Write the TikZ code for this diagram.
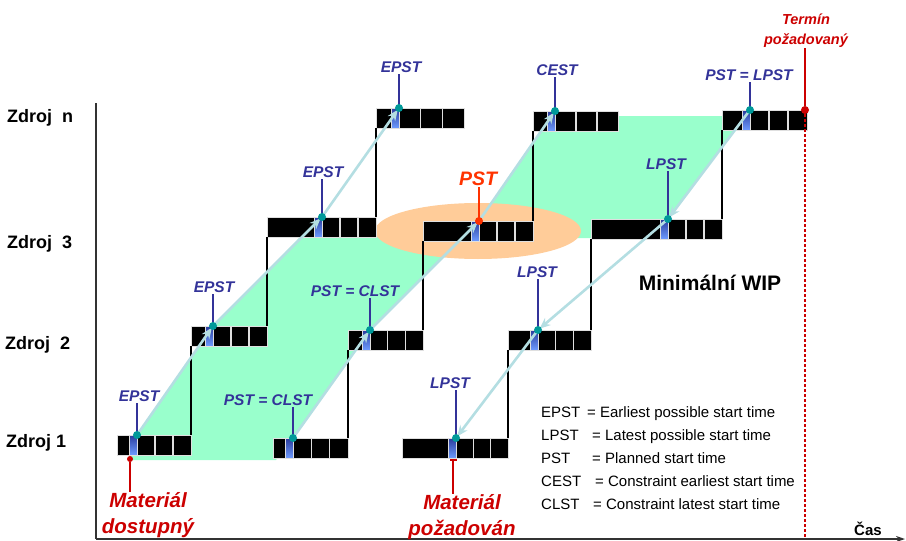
\documentclass[tikz,border=0pt]{standalone}
\usepackage{fontspec}
\setmainfont{Liberation Sans}
\usetikzlibrary{arrows.meta,calc,positioning}
\definecolor{mintgreen}{HTML}{99FFCC}
\definecolor{peach}{HTML}{FFCC99}
\definecolor{stemblue}{HTML}{333399}
\definecolor{dotteal}{HTML}{009999}
\definecolor{flowcyan}{HTML}{B4DEE2}
\definecolor{duered}{HTML}{CC0000}
\definecolor{pstred}{HTML}{FF3300}
\definecolor{cellblue}{HTML}{6E9BFF}
\definecolor{celldark}{HTML}{2A3C9C}
\pgfdeclarelayer{back}
\pgfsetlayers{back,main}

\tikzset{
  barbox/.style={fill=black, draw=gray!25, line width=1pt, minimum height=20pt, inner sep=0pt, outer sep=0pt},
  bluecell/.style={top color=celldark, bottom color=cellblue, draw=gray!25, line width=1pt, minimum width=8pt, minimum height=20pt, inner sep=0pt, outer sep=0pt},
  cellsep/.style={gray!25, line width=1.6pt},
  linkline/.style={black, line width=1.8pt},
  axisline/.style={black!80, line width=1.4pt},
  flow/.style={flowcyan, line width=2.6pt, shorten >=2pt, -{Stealth[length=11pt,width=9pt]}},
  stem/.style={stemblue, line width=2pt},
  redstem/.style={duered, line width=2pt},
  tealdot/.style={circle, fill=dotteal, inner sep=0pt, minimum size=8pt},
  reddot/.style={circle, fill=#1, inner sep=0pt, minimum size=8pt},
  timelbl/.style={text=stemblue, font=\fontsize{15.5}{18}\selectfont\bfseries\itshape, inner sep=2pt},
  reslbl/.style={font=\fontsize{18}{20}\selectfont\bfseries, inner sep=0pt},
  redlbl/.style={text=duered, font=\fontsize{20.5}{26}\selectfont\bfseries\itshape, align=center, inner sep=0pt},
  legendtxt/.style={font=\fontsize{15}{23}\selectfont, align=left, inner sep=0pt},
}

% name, left end, blue cell, right end, y
\newcommand{\jobbar}[5]{%
  \node[barbox, anchor=west, minimum width={(#4-#2)*1pt}] (#1) at (#2,#5) {};
  \node[bluecell, anchor=west] (#1-s) at (#3,#5) {};
  \pgfmathsetmacro{\cellw}{(#4-#3-8)/3}
  \foreach \k in {1,2}
    \draw[cellsep] ({#3+8+\k*\cellw},#5-10) -- ++(0,20);
  \coordinate (#1-d) at (#1-s.north east);
}

\begin{document}
\begin{tikzpicture}[x=1pt,y=-1pt]
  \useasboundingbox (0,0) rectangle (906,541);

  \coordinate (ytop) at (96,103);
  \coordinate (orig) at (96,539);
  \coordinate (xend) at (905,539);
  \draw[axisline] (ytop) -- (orig);
  \draw[axisline,-{Stealth[length=9pt,width=6pt]}] (orig) -- (xend);
  \node[font=\fontsize{15}{18}\selectfont\bfseries, anchor=base] (cas) at (868,535) {Čas};

  \node[reslbl, anchor=base west] (resn) at (7,122) {Zdroj\ \ n};
  \node[reslbl, anchor=base west] (res3) at (7,248) {Zdroj\ \ 3};
  \node[reslbl, anchor=base west] (res2) at (5,349) {Zdroj\ \ 2};
  \node[reslbl, anchor=base west] (res1) at (6,447) {Zdroj 1};

  \jobbar{z1a}{117}{129}{191}{445}
  \jobbar{z1b}{273}{285}{348}{448}
  \jobbar{z1c}{402}{448}{508}{448}
  \jobbar{z2a}{191}{205}{267}{336}
  \jobbar{z2b}{348}{362}{423}{340}
  \jobbar{z2c}{508}{530}{591}{340}
  \jobbar{z3a}{267}{314}{376}{227}
  \jobbar{z3b}{423}{471}{533}{231}
  \jobbar{z3c}{591}{660}{722}{229}
  \jobbar{zna}{376}{391}{464}{118}
  \jobbar{znb}{533}{547}{618}{121}
  \jobbar{znc}{722}{742}{807}{120}

  \begin{pgfonlayer}{back}
    \fill[mintgreen] (130,460) -- (z1a-d) -- (z2a-d) -- (309,228) -- (z3b-d) -- (552,116)
      -- (746,116) -- (z3c-d) -- (645,238) -- (461,238) -- (z2b-d) -- (z1b-d) -- (276,460) -- cycle;
    \fill[peach] (478,231) ellipse [x radius=103pt, y radius=28pt];
  \end{pgfonlayer}

  \draw[linkline] (z1a.north east) -- (z2a.south west);
  \draw[linkline] (z2a.north east) -- (z3a.south west);
  \draw[linkline] (z3a.north east) -- (zna.south west);
  \draw[linkline] (z1b.north east) -- (z2b.south west);
  \draw[linkline] (z2b.north east) -- (z3b.south west);
  \draw[linkline] (z3b.north east) -- (znb.south west);
  \draw[linkline] (z1c.north east) -- (z2c.south west);
  \draw[linkline] (z2c.north east) -- (z3c.south west);
  \draw[linkline] (z3c.north east) -- (znc.south west);

  \draw[flow] (z1a-d) -- (z2a-d);
  \draw[flow] (z2a-d) -- (z3a-d);
  \draw[flow] (z3a-d) -- (zna-d);
  \draw[flow] (z1b-d) -- (z2b-d);
  \draw[flow] (z2b-d) -- (z3b-d);
  \draw[flow] (z3b-d) -- (znb-d);
  \draw[flow] (znc-d) -- (z3c-d);
  \draw[flow] (z3c-d) -- (z2c-d);
  \draw[flow] (z2c-d) -- (z1c-d);

  \node[timelbl, anchor=base] (z1a-l) at (139,401) {EPST};
  \node[timelbl, anchor=base] (z1b-l) at (268,405) {PST = CLST};
  \node[timelbl, anchor=base] (z1c-l) at (450,388) {LPST};
  \node[timelbl, anchor=base] (z2a-l) at (214,292) {EPST};
  \node[timelbl, anchor=base] (z2b-l) at (355,296) {PST = CLST};
  \node[timelbl, anchor=base] (z2c-l) at (537,277) {LPST};
  \node[timelbl, anchor=base] (z3a-l) at (323,177) {EPST};
  \node[timelbl, anchor=base, text=pstred, font=\fontsize{19.5}{22}\selectfont\bfseries\itshape] (z3b-l) at (478,185) {PST};
  \node[timelbl, anchor=base] (z3c-l) at (666,169) {LPST};
  \node[timelbl, anchor=base] (zna-l) at (401,72) {EPST};
  \node[timelbl, anchor=base] (znb-l) at (557,75) {CEST};
  \node[timelbl, anchor=base] (znc-l) at (749,80) {PST = LPST};

  \draw[stem] (z1a-d) -- (z1a-d |- z1a-l.south);
  \draw[stem] (z1b-d) -- (z1b-d |- z1b-l.south);
  \draw[stem] (z1c-d) -- (z1c-d |- z1c-l.south);
  \draw[stem] (z2a-d) -- (z2a-d |- z2a-l.south);
  \draw[stem] (z2b-d) -- (z2b-d |- z2b-l.south);
  \draw[stem] (z2c-d) -- (z2c-d |- z2c-l.south);
  \draw[stem] (z3a-d) -- (z3a-d |- z3a-l.south);
  \draw[stem, pstred] (z3b-d) -- (z3b-d |- z3b-l.south);
  \draw[stem] (z3c-d) -- (z3c-d |- z3c-l.south);
  \draw[stem] (zna-d) -- (zna-d |- zna-l.south);
  \draw[stem] (znb-d) -- (znb-d |- znb-l.south);
  \draw[stem] (znc-d) -- (znc-d |- znc-l.south);

  \node[tealdot] (z1a-p) at (z1a-d) {};
  \node[tealdot] (z1b-p) at (z1b-d) {};
  \node[tealdot] (z1c-p) at (z1c-d) {};
  \node[tealdot] (z2a-p) at (z2a-d) {};
  \node[tealdot] (z2b-p) at (z2b-d) {};
  \node[tealdot] (z2c-p) at (z2c-d) {};
  \node[tealdot] (z3a-p) at (z3a-d) {};
  \node[reddot=pstred] (z3b-p) at (z3b-d) {};
  \node[tealdot] (z3c-p) at (z3c-d) {};
  \node[tealdot] (zna-p) at (zna-d) {};
  \node[tealdot] (znb-p) at (znb-d) {};
  \node[tealdot] (znc-p) at (znc-d) {};

  % deadline
  \node[reddot=duered] (due-p) at (805,110) {};
  \node[text=duered, font=\fontsize{14.5}{20}\selectfont\bfseries\itshape, align=center, anchor=north, inner sep=0pt] (due-t) at (806,14) {Termín\\požadovaný};
  \draw[redstem] (due-p) -- (due-p |- due-t.south);
  \draw[duered, line width=2.5pt, dash pattern=on 2.5pt off 2.5pt] (due-p) -- (due-p |- orig);

  % material
  \node[reddot=duered, minimum size=6pt] (avail-p) at (130,459) {};
  \node[redlbl, anchor=north] (avail-t) at (148,492) {Materiál\\dostupný};
  \draw[redstem] (avail-p) -- (avail-p |- avail-t.north);
  \node[fill=duered, minimum width=7pt, minimum height=2pt, inner sep=0pt] (need-p) at (453,460) {};
  \node[redlbl, anchor=north] (need-t) at (462,494) {Materiál\\požadován};
  \draw[redstem] (need-p) -- (need-p |- need-t.north);

  \node[font=\fontsize{21}{24}\selectfont\bfseries, anchor=base] (wip) at (710,290) {Minimální WIP};

  \node[legendtxt, anchor=north west] (legend) at (541,406) {%
    \makebox[46pt][l]{EPST}= Earliest possible start time\\
    \makebox[51pt][l]{LPST}= Latest possible start time\\
    \makebox[51pt][l]{PST}= Planned start time\\
    \makebox[54pt][l]{CEST}= Constraint earliest start time\\
    \makebox[52pt][l]{CLST}= Constraint latest start time};
\end{tikzpicture}
\end{document}
